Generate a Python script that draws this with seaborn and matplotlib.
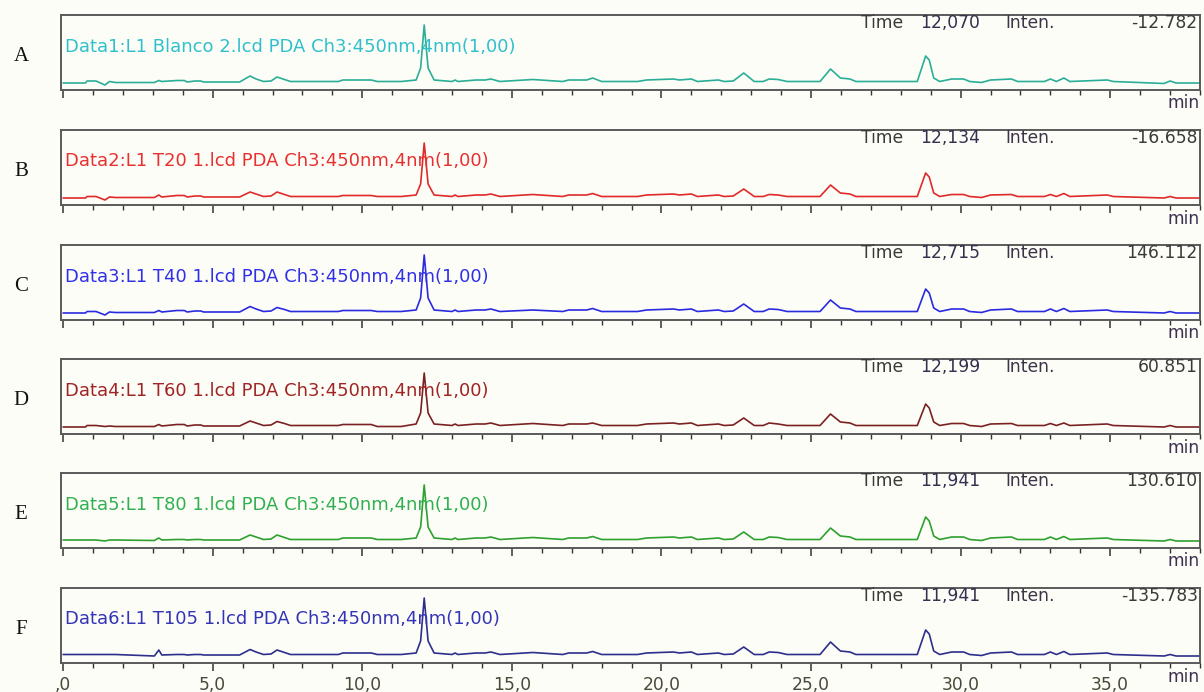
import numpy as np
import pandas as pd
import matplotlib
matplotlib.use("Agg")
import matplotlib.pyplot as plt
import seaborn as sns
from matplotlib.ticker import MultipleLocator, FixedLocator, FixedFormatter

sns.set_style("white")
plt.rcParams['font.family'] = ['DejaVu Sans']

# ---------------- data ----------------
times = [0, 0.75, 0.8, 1.1, 1.4, 1.55, 1.75, 3.05, 3.2, 3.3,
         3.8, 4.05, 4.15, 4.4, 4.6, 4.7, 5.9, 6.25, 6.45, 6.7,
         6.95, 7.15, 7.4, 7.6, 9.2, 9.35, 10.3, 10.5, 11.3, 11.8,
         11.95, 12.07, 12.2, 12.4, 13.0, 13.1, 13.2, 13.8, 14.1, 14.3,
         14.6, 15.7, 16.7, 16.9, 17.5, 17.7, 18.0, 19.2, 19.5, 20.4,
         20.6, 21.0, 21.2, 21.9, 22.1, 22.4, 22.75, 23.1, 23.4, 23.6,
         23.9, 24.2, 25.3, 25.65, 25.98, 26.3, 26.5, 28.55, 28.83, 28.95,
         29.1, 29.3, 29.7, 30.1, 30.3, 30.7, 31.0, 31.7, 31.9, 32.8,
         33.0, 33.2, 33.45, 33.65, 34.9, 35.1, 36.8, 37.0, 37.2, 38.0]

inten_A = [0, 0, 2, 2, -2, 1.5, 0.5, 0.5, 2.5, 1.5,
           2.5, 2.5, 1, 2, 2, 1, 1, 7, 4, 1.5,
           2, 6, 3.5, 1.5, 1.5, 3, 3, 1.5, 1.5, 3,
           15, 58, 15, 3, 1.5, 3, 1.5, 3, 3, 4,
           1.5, 3.5, 1.5, 3, 3, 5, 1.5, 1.5, 3, 4,
           3, 4, 1.5, 3, 1.5, 2, 10, 1.5, 1.5, 4,
           3.5, 1.5, 1.5, 14, 5, 4, 1.5, 1.5, 27, 23,
           5, 1.5, 4, 4, 1.5, 0.5, 3, 4, 1.5, 1.5,
           4, 1.5, 5, 1.5, 3, 1.5, -0.5, 2, 0, 0]

inten_B = [0, 0, 1.5, 1.5, -2, 1, 0.5, 0.5, 3, 1,
           2.5, 2.5, 1, 2, 2, 1, 1, 6, 4, 1.5,
           2, 6, 3.5, 1.5, 1.5, 2.5, 2.5, 1.5, 1.5, 3,
           14, 55, 14, 3, 1.5, 3, 1.5, 3, 3, 4,
           1.5, 3.5, 1.5, 3, 3, 4.5, 1.5, 1.5, 3, 4,
           3, 4, 1.5, 3, 1.5, 2, 9, 1.5, 1.5, 3.5,
           3, 1.5, 1.5, 13, 5, 4, 1.5, 1.5, 25, 21,
           5, 1.5, 3.5, 3.5, 1.5, 0.5, 3, 3.5, 1.5, 1.5,
           3.5, 1.5, 4.5, 1.5, 3, 1.5, 0, 1.5, 0, 0]

inten_C = [0, 0, 1.5, 1.5, -2, 1, 0.5, 0.5, 2.5, 1,
           2.5, 2.5, 1, 2, 2, 1, 1, 6.5, 4, 1.5,
           2, 5.5, 3.5, 1.5, 1.5, 2.5, 2.5, 1.5, 1.5, 3,
           15, 58, 15, 3, 1.5, 3, 1.5, 3, 3, 4,
           1.5, 3, 1.5, 3, 3, 4.5, 1.5, 1.5, 3, 4,
           3, 4, 1.5, 3, 1.5, 2, 9, 1.5, 1.5, 4,
           3.5, 1.5, 1.5, 13, 5, 4, 1.5, 1.5, 24, 20,
           5, 1.5, 4, 4, 1.5, 0.5, 3, 4, 1.5, 1.5,
           4, 1.5, 4.5, 1.5, 3, 1.5, 0, 1.5, 0, 0]

inten_D = [0, 0, 1.5, 1.5, 0.5, 1, 0.5, 0.5, 2.5, 1,
           2.5, 2.5, 1, 2, 2, 1, 1, 6, 4, 1.5,
           2, 5.5, 3.5, 1.5, 1.5, 2.5, 2.5, 0.5, 0.5, 3,
           14, 54, 14, 3, 1.5, 3, 1.5, 3, 3, 4,
           1.5, 3.5, 1.5, 3, 3, 4, 1.5, 1.5, 3, 4,
           3, 4, 1.5, 3, 1.5, 2, 9, 1.5, 1.5, 4,
           3, 1.5, 1.5, 13, 5, 4, 1.5, 1.5, 23, 19,
           5, 1.5, 3.5, 3.5, 1.5, 0.5, 3, 3.5, 1.5, 1.5,
           3.5, 1.5, 4, 1.5, 3, 1.5, 0, 1.5, 0, 0]

inten_E = [1, 1, 1, 1, 0, 1, 1, 0.5, 3, 1,
           1.5, 1.5, 1, 1.5, 1.5, 1, 1, 6, 4, 1.5,
           2, 6, 3.5, 1.5, 1.5, 3, 3, 1.5, 1.5, 3,
           14, 56, 14, 3, 1.5, 3, 1.5, 3, 3, 4,
           1.5, 3.5, 1.5, 3, 3, 4.5, 1.5, 1.5, 3, 4,
           3, 4, 1.5, 3, 1.5, 2, 9, 1.5, 1.5, 4,
           3.5, 1.5, 1.5, 13, 5, 4, 1.5, 1.5, 24, 20,
           5, 1.5, 4, 4, 1.5, 0.5, 3, 4, 1.5, 1.5,
           4, 1.5, 4.5, 1.5, 3, 1.5, 0, 1.5, 0, 0]

inten_F = [1.5, 1.5, 1.5, 1.5, 1.5, 1.5, 1.5, 0, 6, 1,
           1.5, 1.5, 1, 1.5, 1.5, 1, 1, 6.5, 4, 1.5,
           2, 6, 3.5, 1.5, 1.5, 3, 3, 1.5, 1.5, 3,
           15, 58, 15, 3, 1.5, 3, 1.5, 3, 3, 4,
           1.5, 3.5, 1.5, 3, 3, 4.5, 1.5, 1.5, 3, 4,
           3, 4, 1.5, 3, 1.5, 2, 9, 1.5, 1.5, 4,
           3.5, 1.5, 1.5, 14, 5, 4, 1.5, 1.5, 26, 22,
           5, 1.5, 4, 4, 1.5, 0.5, 3, 4, 1.5, 1.5,
           4, 1.5, 4.5, 1.5, 3, 1.5, 0, 1.5, 0, 0]

panel_letters = ["A", "B", "C", "D", "E", "F"]
data_labels = ["Data1:L1 Blanco 2.lcd PDA Ch3:450nm,4nm(1,00)",
               "Data2:L1 T20 1.lcd PDA Ch3:450nm,4nm(1,00)",
               "Data3:L1 T40 1.lcd PDA Ch3:450nm,4nm(1,00)",
               "Data4:L1 T60 1.lcd PDA Ch3:450nm,4nm(1,00)",
               "Data5:L1 T80 1.lcd PDA Ch3:450nm,4nm(1,00)",
               "Data6:L1 T105 1.lcd PDA Ch3:450nm,4nm(1,00)"]
cursor_times = ["12,070", "12,134", "12,715", "12,199", "11,941", "11,941"]
cursor_inten = ["-12.782", "-16.658", "146.112", "60.851", "130.610", "-135.783"]
series = [inten_A, inten_B, inten_C, inten_D, inten_E, inten_F]

major_ticks = [0, 5, 10, 15, 20, 25, 30, 35]
major_labels = [",0", "5,0", "10,0", "15,0", "20,0", "25,0", "30,0", "35,0"]

line_colors = ["#2aae96", "#e02a2a", "#2a2ae0", "#7a2222", "#2ea02e", "#2e2e8c"]
text_colors = ["#30c0cc", "#e83030", "#3030e8", "#a02424", "#30b050", "#3434b8"]

# ---------------- figure ----------------
W, H = 1204, 692
bg = "#fdfdf8"
fig = plt.figure(figsize=(W / 100, H / 100), dpi=100, facecolor=bg)

tops = [15, 130, 245, 359, 473, 588]
box_h = 75
left_px, right_px = 61, 1200
fs = 12.3

for i, top in enumerate(tops):
    ax = fig.add_axes([left_px / W, 1 - (top + box_h) / H,
                       (right_px - left_px) / W, box_h / H])
    ax.set_facecolor(bg)
    df = pd.DataFrame({"time": times, "inten": series[i]})
    sns.lineplot(data=df, x="time", y="inten", ax=ax, color=line_colors[i],
                 lw=1.2, estimator=None, sort=False)
    ax.set_xlim(-0.07, 38.0)
    ax.set_ylim(-7, 68)
    ax.set_xlabel("")
    ax.set_ylabel("")
    ax.set_yticks([])
    for s in ax.spines.values():
        s.set_color("#5a5a5a")
        s.set_linewidth(1.4)
        s.set_visible(True)
    ax.xaxis.set_major_locator(FixedLocator(major_ticks))
    ax.xaxis.set_minor_locator(MultipleLocator(1))
    ax.tick_params(axis="x", which="major", direction="out", length=6,
                   width=1.1, color="#333333", bottom=True, top=False)
    ax.tick_params(axis="x", which="minor", direction="out", length=3.5,
                   width=1.0, color="#333333", bottom=True, top=False)
    if i == len(tops) - 1:
        ax.xaxis.set_major_formatter(FixedFormatter(major_labels))
        ax.tick_params(axis="x", which="major", labelsize=fs,
                       labelcolor="#4a4838", pad=3)
    else:
        ax.set_xticklabels([])

    # data label
    ax.text(0.0035, 0.58, data_labels[i], transform=ax.transAxes,
            fontsize=13.0, color=text_colors[i], ha="left", va="center")
    # header
    ax.text(0.702, 0.89, "Time", transform=ax.transAxes, fontsize=fs,
            color="#3a3a3a", ha="left", va="center")
    ax.text(0.754, 0.89, cursor_times[i], transform=ax.transAxes, fontsize=fs,
            color="#34304e", ha="left", va="center")
    ax.text(0.829, 0.89, "Inten.", transform=ax.transAxes, fontsize=fs,
            color="#3e3448", ha="left", va="center")
    ax.text(0.998, 0.89, cursor_inten[i], transform=ax.transAxes, fontsize=fs,
            color="#3a3a3a", ha="right", va="center")
    # unit
    ax.text(1.0, -0.18, "min", transform=ax.transAxes, fontsize=fs,
            color="#3e3050", ha="right", va="center")
    # panel letter
    fig.text(21 / W, 1 - (top + box_h / 2 + 4) / H, panel_letters[i],
             fontsize=15, family=["Liberation Serif", "DejaVu Serif"],
             color="#111111", ha="center", va="center")

fig.savefig("out.png", dpi=100, facecolor=bg)
